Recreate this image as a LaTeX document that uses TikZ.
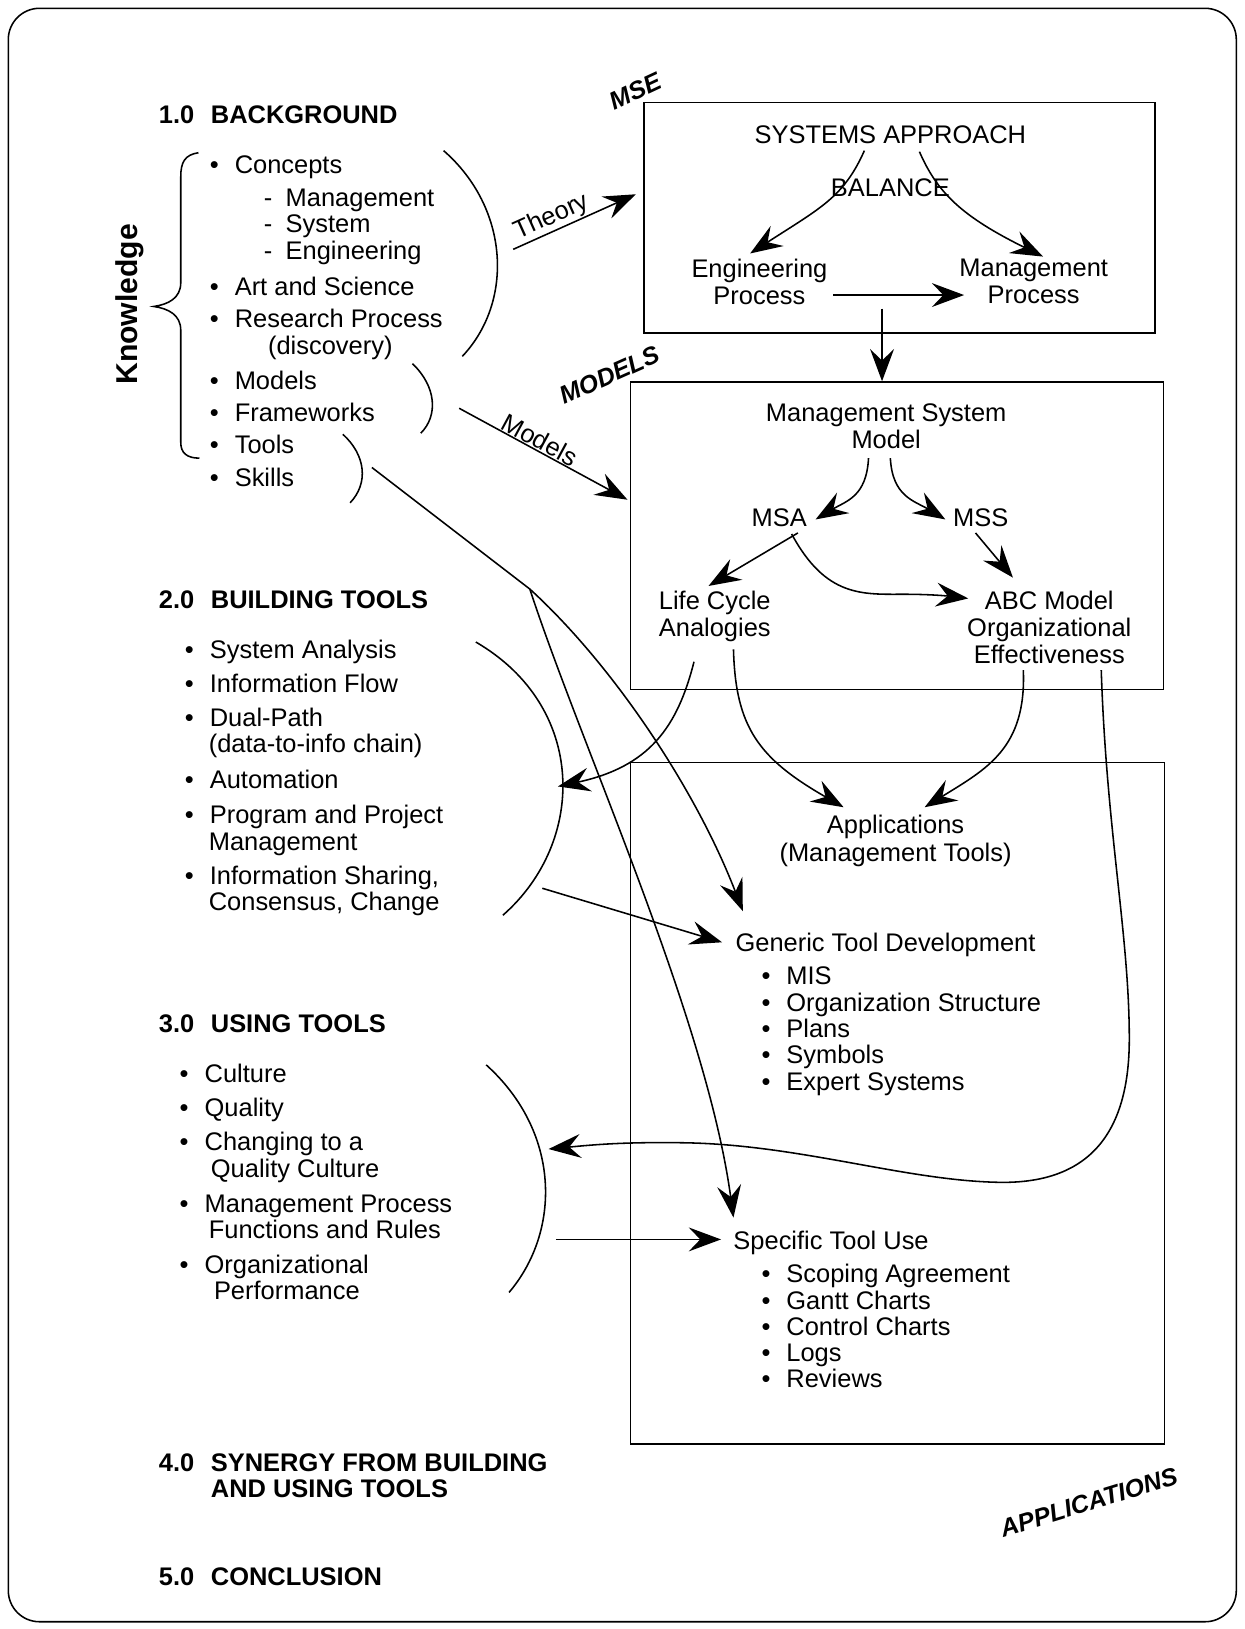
\documentclass[tikz,border=0pt]{standalone}
\usepackage{fontspec}
\setmainfont{Liberation Sans}
\usetikzlibrary{arrows.meta}
\newcommand{\bul}{\makebox[24pt][l]{\textbullet}}
\newcommand{\dsh}{\makebox[21pt][l]{-}}
\begin{document}
\begin{tikzpicture}[x=1pt,y=-1pt,
  txt/.style={inner sep=0pt, outer sep=0pt, font=\fontsize{24.5}{26}\selectfont, anchor=base west},
  ctr/.style={txt, anchor=north, align=center},
  head/.style={txt, font=\fontsize{24.5}{26}\selectfont\bfseries},
  tag/.style={inner sep=0pt, font=\fontsize{24}{26}\selectfont\bfseries\itshape},
  box/.style={draw, line width=1.6pt, inner sep=0pt, anchor=north west},
  arc/.style={line width=1.5pt},
  link/.style={line width=1.5pt, -{Stealth[length=31pt,width=23pt,inset=11pt]}},
]
\useasboundingbox (0,0) rectangle (1198,1568);
% outer frame
\draw[line width=1.5pt, rounded corners=30pt] (8,8) rectangle (1190,1561);

% ---------- section headings ----------
\node[head] (h1) at (153,118.7) {\makebox[50pt][l]{1.0}BACKGROUND};
\node[head] (h2) at (153,585.7) {\makebox[50pt][l]{2.0}BUILDING TOOLS};
\node[head] (h3) at (153,993.7) {\makebox[50pt][l]{3.0}USING TOOLS};
\node[head] (h4) at (153,1416.7) {\makebox[50pt][l]{4.0}SYNERGY FROM BUILDING};
\node[head] (h4b) at (203,1441.7) {AND USING TOOLS};
\node[head] (h5) at (153,1525.7) {\makebox[50pt][l]{5.0}CONCLUSION};

\node[inner sep=0pt, rotate=90, font=\fontsize{29}{30}\selectfont\bfseries] (know) at (125,293) {Knowledge};
% brace
\draw[arc] (191,147) .. controls (178,149) and (174,156) .. (174,170)
  -- (174,272) .. controls (174,287) and (162,293) .. (148,295)
  .. controls (162,297) and (174,303) .. (174,318)
  -- (174,426) .. controls (174,436) and (180,441) .. (192,441);

% ---------- 1.0 list ----------
\node[txt] (b1) at (202,166.7) {\bul Concepts};
\node[txt] (b1a) at (254,198.7) {\dsh Management};
\node[txt] (b1b) at (254,223.7) {\dsh System};
\node[txt] (b1c) at (254,249.7) {\dsh Engineering};
\node[txt] (b2) at (202,284.7) {\bul Art and Science};
\node[txt] (b3) at (202,315.7) {\bul Research Process};
\node[txt] (b3a) at (258,341.7) {(discovery)};
\node[txt] (b4) at (202,374.7) {\bul Models};
\node[txt] (b5) at (202,405.7) {\bul Frameworks};
\node[txt] (b6) at (202,436.7) {\bul Tools};
\node[txt] (b7) at (202,468.7) {\bul Skills};

\draw[arc] (427,145) .. controls (490,200) and (495,290) .. (445,343);
\draw[arc] (397,350) .. controls (420,372) and (422,400) .. (405,417);
\draw[arc] (330,418) .. controls (352,438) and (355,465) .. (337,484);

% ---------- 2.0 list ----------
\node[txt] (s1) at (178,633.7) {\bul System Analysis};
\node[txt] (s2) at (178,666.7) {\bul Information Flow};
\node[txt] (s3) at (178,699.7) {\bul Dual-Path};
\node[txt] (s3a) at (201,724.7) {(data-to-info chain)};
\node[txt] (s4) at (178,758.7) {\bul Automation};
\node[txt] (s5) at (178,792.7) {\bul Program and Project};
\node[txt] (s5a) at (201,818.7) {Management};
\node[txt] (s6) at (178,851.7) {\bul Information Sharing,};
\node[txt] (s6a) at (201,876.7) {Consensus, Change};
\draw[arc] (458,618) .. controls (565,680) and (565,810) .. (484,881);

% ---------- 3.0 list ----------
\node[txt] (u1) at (173,1041.7) {\bul Culture};
\node[txt] (u2) at (173,1074.7) {\bul Quality};
\node[txt] (u3) at (173,1107.7) {\bul Changing to a};
\node[txt] (u3a) at (203,1133.7) {Quality Culture};
\node[txt] (u4) at (173,1166.7) {\bul Management Process};
\node[txt] (u4a) at (201,1191.7) {Functions and Rules};
\node[txt] (u5) at (173,1225.7) {\bul Organizational};
\node[txt] (u5a) at (206,1250.7) {Performance};
\draw[arc] (468,1025) .. controls (540,1090) and (540,1185) .. (490,1244);

% ---------- MSE box ----------
\node[box, minimum width=492pt, minimum height=222pt] (mse) at (619,98) {};
\node[tag, rotate=25] (msetag) at (612,88) {MSE};
\node[ctr] (sys) at (857,121) {SYSTEMS APPROACH};
\node[ctr] (bal) at (857,172) {BALANCE};
\node[ctr] (eng) at (731,249) {Engineering\\Process};
\node[ctr] (mgp) at (995,249) {Management\\Process};
\draw[link] (832,145) .. controls (812,190) and (790,200) .. (722,244);
\draw[link] (885,146) .. controls (902,185) and (925,208) .. (1004,247);
\draw[link] (802,284) -- (928,284);

% ---------- MODELS box ----------
\node[box, minimum width=513pt, minimum height=296pt] (models) at (606,367) {};
\node[tag, rotate=24] (modtag) at (587,361) {MODELS};
\node[ctr] (msm) at (853,389) {Management System\\Model};
\node[ctr] (msa) at (750,490) {MSA};
\node[ctr] (mss) at (944,490) {MSS};
\node[ctr] (lca) at (688,569) {Life Cycle\\Analogies};
\node[ctr] (abc) at (1010,569) {ABC Model\\Organizational\\Effectiveness};
\draw[link] (836,441) .. controls (834,478) and (815,482) .. (785,500);
\draw[link] (857,441) .. controls (859,478) and (880,482) .. (910,500);
\draw[link] (768,513) -- (682,564);
\draw[link] (939,513) -- (975,556);
\draw[link] (762,514) .. controls (795,575) and (830,572) .. (870,572) .. controls (898,572) and (915,574) .. (932,576);

% ---------- APPLICATIONS box ----------
\node[box, minimum width=514pt, minimum height=656pt] (appbox) at (606,733) {};
\node[tag, rotate=17] (apptag) at (1048,1446) {APPLICATIONS};
\node[ctr] (app) at (862,785) {Applications\\(Management Tools)};
\node[txt] (gtd) at (708,915.7) {Generic Tool Development};
\node[txt] (g1) at (733,947.7) {\bul MIS};
\node[txt] (g2) at (733,973.7) {\bul Organization Structure};
\node[txt] (g3) at (733,998.7) {\bul Plans};
\node[txt] (g4) at (733,1023.7) {\bul Symbols};
\node[txt] (g5) at (733,1049.7) {\bul Expert Systems};
\node[txt] (stu) at (706,1202.7) {Specific Tool Use};
\node[txt] (t1) at (733,1234.7) {\bul Scoping Agreement};
\node[txt] (t2) at (733,1260.7) {\bul Gantt Charts};
\node[txt] (t3) at (733,1285.7) {\bul Control Charts};
\node[txt] (t4) at (733,1310.7) {\bul Logs};
\node[txt] (t5) at (733,1335.7) {\bul Reviews};

% ---------- connectors ----------
\coordinate (thS) at (494,240);
\coordinate (thE) at (612,187);
\draw[link] (thS) -- (thE) node[pos=0.36, sloped, above, inner sep=1pt, font=\fontsize{24.5}{26}\selectfont] (thlab) {Theory};
\coordinate (moS) at (442,393);
\coordinate (moE) at (604,481);
\draw[link] (moS) -- (moE) node[pos=0.45, sloped, above, inner sep=1pt, font=\fontsize{24.5}{26}\selectfont] (molab) {Models};
\coordinate (mdown) at (849,297);
\draw[link] (mdown) -- (mdown |- models.north);

% from the models to the left column and to the applications
\draw[link] (668,637) .. controls (652,700) and (625,738) .. (537,757);
\draw[link] (706,625) .. controls (708,700) and (730,730) .. (812,777);
\draw[link] (985,645) .. controls (988,720) and (950,740) .. (890,777);
\draw[link] (1060,645) .. controls (1065,800) and (1087,900) .. (1087,1000)
  .. controls (1087,1100) and (1040,1140) .. (960,1138)
  .. controls (870,1136) and (770,1102) .. (660,1100)
  .. controls (600,1099) and (570,1102) .. (528,1106);

% from tools and skills to the tool work
\coordinate (tl0) at (358,450);
\coordinate (fork) at (510,567);
\draw[link] (tl0) -- (fork) .. controls (590,640) and (670,760) .. (715,877);
\draw[link] (fork) .. controls (560,720) and (680,980) .. (706,1172);

% from building and using tools
\draw[link] (522,855) -- (695,907);
\draw[link] (535,1193) -- (694,1193);
\end{tikzpicture}
\end{document}
